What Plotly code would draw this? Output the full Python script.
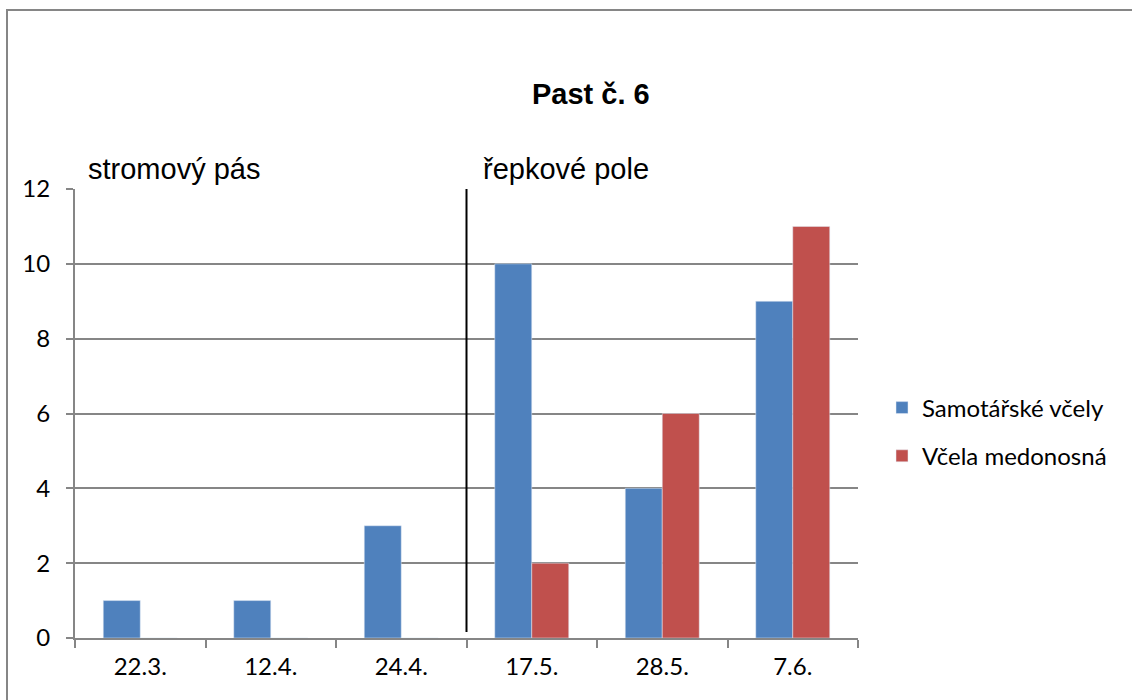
import plotly.graph_objects as go

categories = ["22.3.", "12.4.", "24.4.", "17.5.", "28.5.", "7.6."]
samotarske = [1, 1, 3, 10, 4, 9]
medonosna = [0, 0, 0, 2, 6, 11]
y_ticks = [0, 2, 4, 6, 8, 10, 12]
series_names = ["Samotářské včely", "Včela medonosná"]
title_text = "Past č. 6"
zone_labels = ["stromový pás", "řepkové pole"]

W, H = 1132, 700
L, R, T, B = 75, 274, 189, 62
pw, ph = W - L - R, H - T - B

def px(x):
    return (x - L) / pw

def py(y):
    return (H - B - y) / ph

FONT = "Lato"
fig = go.Figure()
fig.add_trace(go.Bar(x=categories, y=samotarske, name=series_names[0],
                     marker_color="#4F81BD", legendgroup="a"))
fig.add_trace(go.Bar(x=categories, y=medonosna, name=series_names[1],
                     marker_color="#C0504D", legendgroup="b"))

fig.update_layout(
    width=W, height=H,
    margin=dict(l=L, r=R, t=T, b=B),
    paper_bgcolor="white", plot_bgcolor="white",
    barmode="group", bargap=0.433, bargroupgap=0,
    font=dict(family=FONT, size=24, color="black"),
    legend=dict(x=px(882), xanchor="left", y=py(432), yanchor="middle",
                font=dict(family=FONT, size=24), tracegroupgap=14,
                bgcolor="rgba(0,0,0,0)"),
    xaxis=dict(type="category", showgrid=False, showline=True, linecolor="#868686",
               linewidth=2, ticks="outside", tickson="boundaries", ticklen=8,
               tickcolor="#868686", tickwidth=2, tickfont=dict(family=FONT, size=24),
               ticklabelstandoff=6, fixedrange=True),
    yaxis=dict(range=[0, 12], tickvals=y_ticks, showgrid=True, gridcolor="#868686",
               gridwidth=2, showline=True, linecolor="#868686", linewidth=2,
               ticks="outside", ticklen=7, tickcolor="#868686", tickwidth=2,
               tickfont=dict(family=FONT, size=24), ticklabelstandoff=11,
               zeroline=False),
    shapes=[
        dict(type="line", xref="x", yref="y", x0=2.5, x1=2.5, y0=0.16, y1=13.44,
             line=dict(color="black", width=2)),
        dict(type="rect", xref="paper", yref="paper", x0=px(7), x1=px(1200),
             y0=py(760), y1=py(10), line=dict(color="#868686", width=2),
             fillcolor="rgba(0,0,0,0)", layer="above"),
    ],
    annotations=[
        dict(text="<b>" + title_text + "</b>", xref="paper", yref="paper",
             x=px(591), y=py(94), xanchor="center", yanchor="middle",
             showarrow=False, font=dict(family="Liberation Sans", size=29)),
        dict(text=zone_labels[0], xref="paper", yref="paper", x=px(86), y=py(169),
             xanchor="left", yanchor="middle", showarrow=False,
             font=dict(family="Liberation Sans", size=29)),
        dict(text=zone_labels[1], xref="paper", yref="paper", x=px(481), y=py(169),
             xanchor="left", yanchor="middle", showarrow=False,
             font=dict(family="Liberation Sans", size=29)),
    ],
)

fig.write_html("out.html", config={"displayModeBar": False},
               post_script="document.body.style.margin='0';")
